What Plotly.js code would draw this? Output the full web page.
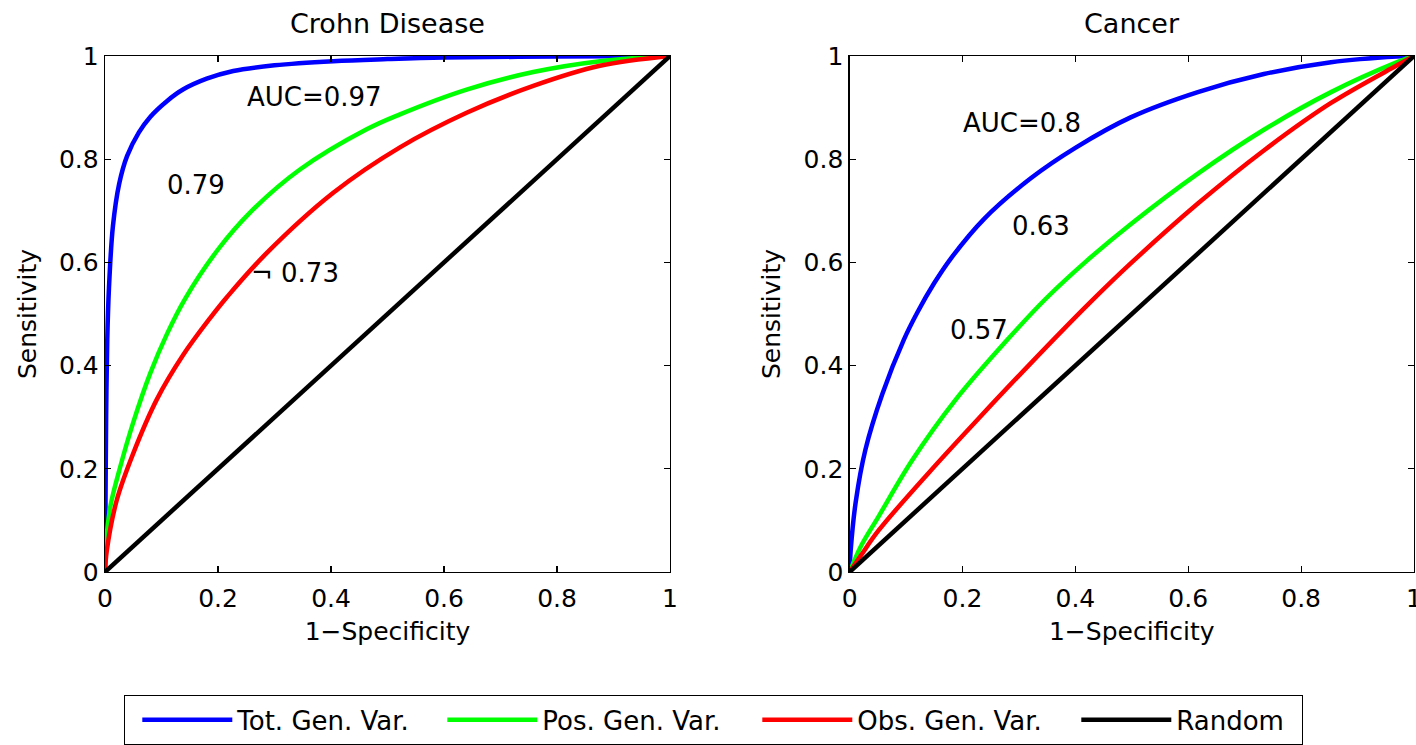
<!DOCTYPE html>
<html>
<head>
<meta charset="utf-8">
<script src="https://cdn.plot.ly/plotly-3.0.1.min.js"></script>
<style>html,body{margin:0;padding:0;background:#fff;}#chart{width:1416px;height:745px;}</style>
</head>
<body>
<div id="chart"></div>
<script>
// ---------- data ----------
const seriesNames = ["Tot. Gen. Var.", "Pos. Gen. Var.", "Obs. Gen. Var.", "Random"];
const panelTitles = ["Crohn Disease", "Cancer"];

// Crohn Disease panel
const crohnTotX = [0, 0.001, 0.002, 0.004, 0.007, 0.014, 0.025, 0.039, 0.06, 0.08, 0.11, 0.138, 0.18, 0.227, 0.3, 0.404, 0.5, 0.6, 0.8, 1];
const crohnTotY = [0, 0.15, 0.3, 0.45, 0.55, 0.67, 0.752, 0.806, 0.852, 0.882, 0.913, 0.935, 0.956, 0.971, 0.982, 0.99, 0.994, 0.997, 0.999, 1];
const crohnPosX = [0, 0.003, 0.01, 0.027, 0.05, 0.08, 0.11, 0.142, 0.2, 0.257, 0.345, 0.463, 0.522, 0.64, 0.758, 0.876, 1];
const crohnPosY = [0, 0.07, 0.13, 0.204, 0.29, 0.385, 0.462, 0.53, 0.625, 0.697, 0.78, 0.858, 0.887, 0.935, 0.969, 0.99, 1];
const crohnObsX = [0, 0.003, 0.021, 0.05, 0.092, 0.138, 0.186, 0.216, 0.286, 0.404, 0.522, 0.64, 0.758, 0.876, 1];
const crohnObsY = [0, 0.04, 0.14, 0.23, 0.335, 0.42, 0.492, 0.533, 0.618, 0.735, 0.823, 0.89, 0.942, 0.981, 1];

// Cancer panel
const cancerTotX = [0, 0.002, 0.011, 0.028, 0.058, 0.096, 0.12, 0.15, 0.179, 0.238, 0.321, 0.4, 0.498, 0.617, 0.734, 0.853, 0.97, 1];
const cancerTotY = [0, 0.043, 0.137, 0.237, 0.345, 0.45, 0.503, 0.56, 0.607, 0.684, 0.763, 0.822, 0.881, 0.93, 0.965, 0.988, 0.999, 1];
const cancerPosX = [0, 0.02, 0.051, 0.11, 0.188, 0.277, 0.348, 0.42, 0.498, 0.617, 0.734, 0.853, 0.97, 1];
const cancerPosY = [0, 0.05, 0.107, 0.215, 0.334, 0.447, 0.53, 0.603, 0.674, 0.772, 0.857, 0.93, 0.988, 1];
const cancerObsX = [0, 0.02, 0.051, 0.14, 0.229, 0.317, 0.424, 0.498, 0.617, 0.734, 0.853, 0.97, 1];
const cancerObsY = [0, 0.032, 0.08, 0.192, 0.298, 0.4, 0.52, 0.598, 0.714, 0.817, 0.909, 0.982, 1];

// Random classifier (diagonal)
const randomX = [0, 1];
const randomY = [0, 1];

// AUC labels
const crohnLabels = ["AUC=0.97", "0.79", "\u00AC 0.73"];
const crohnLabelX = [0.37, 0.161, 0.336];
const crohnLabelY = [0.92, 0.75, 0.58];
const cancerLabels = ["AUC=0.8", "0.63", "0.57"];
const cancerLabelX = [0.305, 0.34, 0.23];
const cancerLabelY = [0.871, 0.671, 0.469];

const tickVals = [0, 0.2, 0.4, 0.6, 0.8, 1];
const tickText = ["0", "0.2", "0.4", "0.6", "0.8", "1"];
const xTitle = "1\u2212Specificity";
const yTitle = "Sensitivity";
// per-entry legend widths (text part)
const legendWidths = [188, 198, 202, 120];

// ---------- styling ----------
const colors = ["#0000ff", "#00ff00", "#ff0000", "#000000"];
const FONT = "DejaVu Sans";
const LW = 4.5;

function curve(x, y, i, xa, ya, show) {
  const t = {
    x: x, y: y, xaxis: xa, yaxis: ya, type: "scatter", mode: "lines",
    name: seriesNames[i], showlegend: show, legendgroup: "g" + i,
    line: {color: colors[i], width: LW, shape: "spline", smoothing: 1},
    hoverinfo: "skip"
  };
  if (show) t.legendwidth = legendWidths[i];
  return t;
}

const traces = [
  curve(crohnTotX, crohnTotY, 0, "x", "y", true),
  curve(crohnPosX, crohnPosY, 1, "x", "y", true),
  curve(crohnObsX, crohnObsY, 2, "x", "y", true),
  curve(randomX, randomY, 3, "x", "y", true),
  curve(cancerTotX, cancerTotY, 0, "x2", "y2", false),
  curve(cancerPosX, cancerPosY, 1, "x2", "y2", false),
  curve(cancerObsX, cancerObsY, 2, "x2", "y2", false),
  curve(randomX, randomY, 3, "x2", "y2", false)
];

function axis(extra) {
  return Object.assign({
    range: [0, 1], tickvals: tickVals, ticktext: tickText,
    showgrid: false, zeroline: false, showline: true, mirror: "ticks",
    linecolor: "#000", linewidth: 1.3, ticks: "inside", ticklen: 6, tickwidth: 1.2,
    tickcolor: "#000", tickfont: {family: FONT, size: 25, color: "#000"},
    ticklabeloverflow: "allow", fixedrange: true
  }, extra);
}

const annotations = [];
crohnLabels.forEach((t, i) => annotations.push({
  text: t, x: crohnLabelX[i], y: crohnLabelY[i], xref: "x", yref: "y",
  showarrow: false, font: {family: FONT, size: 26, color: "#000"}
}));
cancerLabels.forEach((t, i) => annotations.push({
  text: t, x: cancerLabelX[i], y: cancerLabelY[i], xref: "x2", yref: "y2",
  showarrow: false, font: {family: FONT, size: 26, color: "#000"}
}));
panelTitles.forEach((t, i) => annotations.push({
  text: t, x: 0.5, y: 1, xref: (i === 0 ? "x domain" : "x2 domain"), yref: "paper",
  xanchor: "center", yanchor: "bottom", yshift: 15, showarrow: false,
  font: {family: FONT, size: 27, color: "#000"}
}));

const xt = {text: xTitle, font: {family: FONT, size: 25, color: "#000"}, standoff: 10};
const yt = {text: yTitle, font: {family: FONT, size: 25, color: "#000"}, standoff: 15};

const layout = {
  width: 1416, height: 745,
  margin: {l: 105, r: 2, t: 56, b: 173, autoexpand: false},
  paper_bgcolor: "#fff", plot_bgcolor: "#fff",
  font: {family: FONT, color: "#000"},
  xaxis: axis({domain: [0, 0.43163], anchor: "y", ticklabelstandoff: 4, title: xt}),
  yaxis: axis({domain: [0, 1], anchor: "x", title: yt}),
  xaxis2: axis({domain: [0.56883, 1], anchor: "y2", ticklabelstandoff: 4, title: xt}),
  yaxis2: axis({domain: [0, 1], anchor: "x2", title: yt}),
  showlegend: true,
  legend: {
    orientation: "h", xref: "container", yref: "container",
    x: 124 / 1416, y: 1 - 695 / 745, xanchor: "left", yanchor: "top",
    bordercolor: "#000", borderwidth: 1.3, bgcolor: "#fff",
    font: {family: FONT, size: 26, color: "#000"},
    itemwidth: 90, traceorder: "normal", indentation: 12
  },
  annotations: annotations
};

Plotly.newPlot("chart", traces, layout, {staticPlot: true, displayModeBar: false});
</script>
</body>
</html>
